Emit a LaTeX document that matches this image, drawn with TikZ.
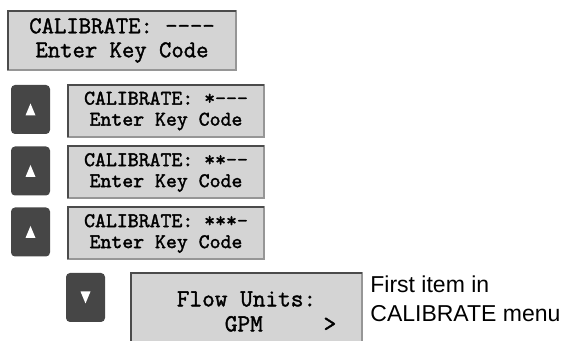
\documentclass[tikz,border=0pt]{standalone}
\usepackage{fontspec}
\setmainfont{Liberation Sans}
\newfontfamily\lcdfont{Latin Modern Mono}[FakeBold=1.6]
\definecolor{lcdgray}{RGB}{212,212,212}
\definecolor{framedark}{RGB}{75,75,75}
\definecolor{framelight}{RGB}{150,150,150}
\definecolor{keygray}{RGB}{70,70,70}
\tikzset{
  display/.style={draw=framelight, fill=lcdgray, line width=1pt, inner sep=0pt, outer sep=0pt,
    align=center, font=\lcdfont\fontsize{12}{12}\selectfont},
  smalldisplay/.style={display, minimum width=98pt, minimum height=26pt,
    font=\lcdfont\fontsize{10.4}{10.5}\selectfont},
  keybox/.style={fill=keygray, rounded corners=2pt, minimum width=19.5pt, minimum height=24.5pt,
    inner sep=0pt, outer sep=0pt},
}
\begin{document}
\begin{tikzpicture}[x=0.5pt, y=-0.5pt]
    \useasboundingbox (0, 0) rectangle (569, 341);
    \clip (0, 0) rectangle (569, 341);

    % starting screen
    \node[display, minimum width=114pt, minimum height=29.5pt] (start) at (122, 40.5) {CALIBRATE: ----\\Enter Key Code};

    % three presses of the up key
    \foreach \y/\code [count=\i] in {111/*---, 172.5/**--, 233.5/***-} {
      \node[keybox] (upkey\i) at (30.5, \y-1.5) {};
      \fill[white] ([shift={(-5, 6)}]upkey\i.center) -- ([shift={(5, 6)}]upkey\i.center) -- ([shift={(0, -6)}]upkey\i.center) -- cycle;
      \node[smalldisplay] (code\i) at (166, \y) {CALIBRATE: \code\\Enter Key Code};
    }

    % down key gives the first menu item
    \node[keybox] (downkey) at (85.5, 297.5) {};
    \fill[white] ([shift={(-5, -6)}]downkey.center) -- ([shift={(5, -6)}]downkey.center) -- ([shift={(0, 6)}]downkey.center) -- cycle;

    \node[display, minimum width=115.5pt, minimum height=38.5pt, align=left,
      font=\lcdfont\fontsize{12.3}{12.5}\selectfont] (flow) at (246.5, 311.5)
      {Flow Units:\\\rlap{\hspace*{24pt}GPM\hspace{30.4pt}>}\phantom{Flow Units:}};

    \node[anchor=west, align=left, inner sep=0pt, font=\fontsize{11.5}{14.5}\selectfont] (note) at (370, 299) {First item in\\CALIBRATE menu};

    % darker top and left edges
    \foreach \n in {start, code1, code2, code3, flow}
      \draw[framedark, line width=1pt] (\n.south west) -- (\n.north west) -- (\n.north east);
\end{tikzpicture}
\end{document}
